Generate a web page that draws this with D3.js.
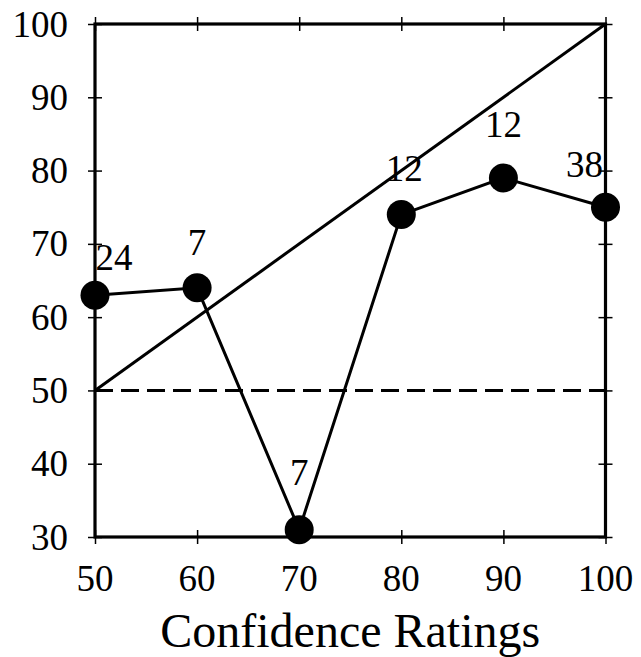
<!DOCTYPE html>
<html><head><meta charset="utf-8">
<script src="https://cdn.jsdelivr.net/npm/d3@7"></script>
<style>body{margin:0;background:#fff}svg{display:block}</style>
</head><body>
<script>
const ratings = [50, 60, 70, 80, 90, 100];
const accuracy = [63, 64, 31, 74, 79, 75];
const counts = ["24", "7", "7", "12", "12", "38"];
const xTicks = [50, 60, 70, 80, 90, 100];
const yTicks = [30, 40, 50, 60, 70, 80, 90, 100];
const chanceLevel = 50;
const xLabel = "Confidence Ratings";
// label offsets (dx, dy) relative to each point
const labelDx = [19, 0, 0, 3, 0, -21];
const labelDy = [-25, -33, -45, -34, -41, -30];

const W = 641, H = 657;
const m = {left: 95, right: 35.5, top: 24, bottom: 120};
const svg = d3.select("body").append("svg").attr("width", W).attr("height", H);
const x = d3.scaleLinear().domain([50, 100]).range([m.left, W - m.right]);
const y = d3.scaleLinear().domain([30, 100]).range([H - m.bottom, m.top]);
const font = "'Liberation Serif', 'Times New Roman', serif";

// ticks (crossing)
const tl = 7;
const g = svg.append("g");
const mkAxis = (axisFn, scale, ticks, tr) => {
  const a = g.append("g").attr("transform", tr)
    .call(axisFn(scale).tickValues(ticks).tickSize(tl).tickSizeOuter(0).tickFormat(""));
  a.select(".domain").remove();
  a.selectAll(".tick line").attr("stroke", "#000").attr("stroke-width", 1.5);
  return a;
};
mkAxis(d3.axisBottom, x, xTicks, `translate(0,${y(30)})`);
mkAxis(d3.axisTop, x, xTicks, `translate(0,${y(30)})`);
mkAxis(d3.axisBottom, x, xTicks, `translate(0,${y(100)})`);
mkAxis(d3.axisTop, x, xTicks, `translate(0,${y(100)})`);
mkAxis(d3.axisLeft, y, yTicks, `translate(${x(50)},0)`);
mkAxis(d3.axisRight, y, yTicks, `translate(${x(50)},0)`);
mkAxis(d3.axisLeft, y, yTicks, `translate(${x(100)},0)`);
mkAxis(d3.axisRight, y, yTicks, `translate(${x(100)},0)`);

// frame
svg.append("rect").attr("x", x(50)).attr("y", y(100))
  .attr("width", x(100) - x(50)).attr("height", y(30) - y(100))
  .attr("fill", "none").attr("stroke", "#000").attr("stroke-width", 3.2);

// tick labels
svg.append("g").selectAll("text").data(yTicks).join("text")
  .attr("x", x(50) - 27).attr("y", d => y(d)).attr("dy", "0.34em")
  .attr("text-anchor", "end").attr("font-family", font).attr("font-size", 37)
  .text(d => d);
svg.append("g").selectAll("text").data(xTicks).join("text")
  .attr("x", d => x(d)).attr("y", y(30) + 54)
  .attr("text-anchor", "middle").attr("font-family", font).attr("font-size", 37)
  .text(d => d);

// axis title
svg.append("text").attr("x", (x(50) + x(100)) / 2).attr("y", 647)
  .attr("text-anchor", "middle").attr("font-family", font).attr("font-size", 48)
  .text(xLabel);

// chance line
svg.append("line").attr("x1", x(50)).attr("x2", x(100))
  .attr("y1", y(chanceLevel)).attr("y2", y(chanceLevel))
  .attr("stroke", "#000").attr("stroke-width", 3).attr("stroke-dasharray", "18,8");

// perfect calibration diagonal
svg.append("line").attr("x1", x(50)).attr("y1", y(50)).attr("x2", x(100)).attr("y2", y(100))
  .attr("stroke", "#000").attr("stroke-width", 3);

// data line
const pts = ratings.map((r, i) => [r, accuracy[i]]);
svg.append("path").datum(pts)
  .attr("d", d3.line().x(d => x(d[0])).y(d => y(d[1])))
  .attr("fill", "none").attr("stroke", "#000").attr("stroke-width", 3);

svg.append("g").selectAll("circle").data(pts).join("circle")
  .attr("cx", d => x(d[0])).attr("cy", d => y(d[1])).attr("r", 14.5).attr("fill", "#000");

// count labels
svg.append("g").selectAll("text").data(pts).join("text")
  .attr("x", (d, i) => x(d[0]) + labelDx[i]).attr("y", (d, i) => y(d[1]) + labelDy[i])
  .attr("text-anchor", "middle").attr("font-family", font).attr("font-size", 37)
  .text((d, i) => counts[i]);
</script>
</body></html>
